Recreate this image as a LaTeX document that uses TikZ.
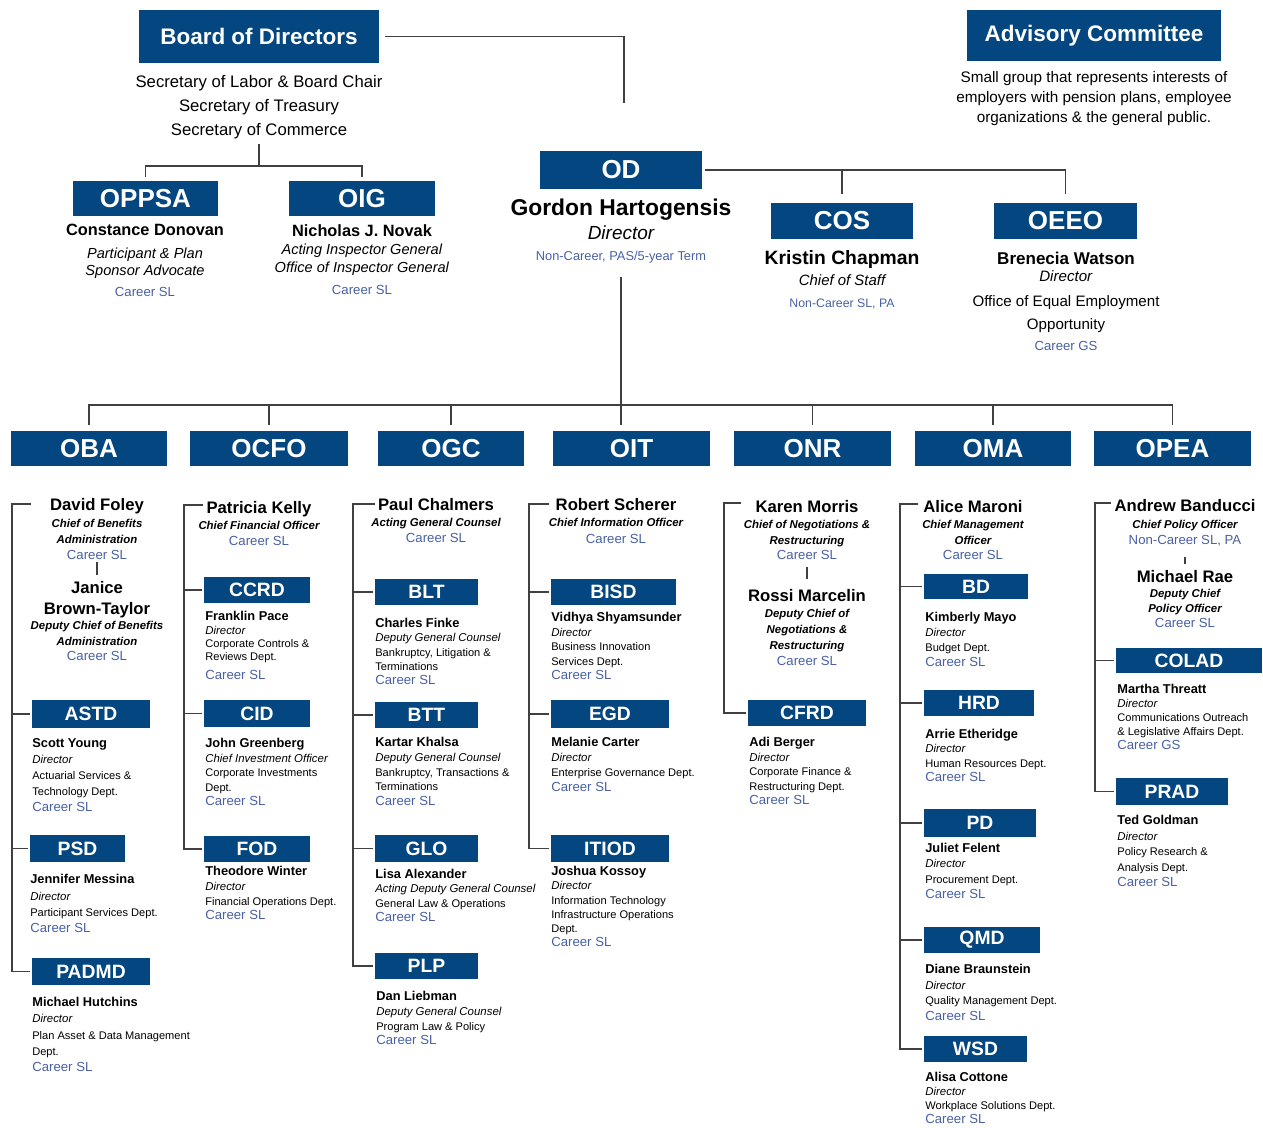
\documentclass[tikz,border=0pt]{standalone}
\usepackage{fontspec}
\setmainfont{Liberation Sans}
\usepackage{tikz}

\definecolor{pbgcnavy}{RGB}{3,70,128}
\definecolor{gradeblue}{RGB}{72,96,164}
\definecolor{linegray}{RGB}{64,64,64}

\newcommand\hname[1]{{\bfseries\fontsize{9.5}{9.5}\selectfont #1}}
\newcommand\htitle[1]{{\bfseries\itshape\fontsize{6.5}{6.5}\selectfont #1}}
\newcommand\dname[1]{{\bfseries\fontsize{7.3}{7.3}\selectfont #1}}
\newcommand\dtitle[1]{{\itshape\fontsize{6.5}{6.5}\selectfont #1}}
\newcommand\grade[1]{{\color{gradeblue}\fontsize{7.5}{7.5}\selectfont #1}}

\begin{document}
\begin{tikzpicture}[x=0.02cm, y=-0.02cm,
    link/.style={draw=linegray, line width=1.1pt},
    sz/.style 2 args={minimum width=#1*0.02cm, minimum height=#2*0.02cm},
    topbox/.style={fill=pbgcnavy, text=white, inner sep=0pt, font=\bfseries\fontsize{12.8}{14}\selectfont},
    officebox/.style={fill=pbgcnavy, text=white, inner sep=0pt, font=\bfseries\fontsize{14.8}{16}\selectfont},
    deptbox/.style={fill=pbgcnavy, text=white, inner sep=0pt, font=\bfseries\fontsize{11}{12}\selectfont},
    toptext/.style={align=center, anchor=north, inner sep=0pt, font=\fontsize{8.3}{#1}\selectfont},
    headinfo/.style={align=center, anchor=north, inner sep=0pt, font=\fontsize{6.5}{#1}\selectfont},
    deptinfo/.style={align=left, anchor=north west, inner sep=0pt, font=\fontsize{6.3}{#1}\selectfont}]
        \useasboundingbox (0,0) rectangle (1263,1127) ;

        % board and advisory committee
        \node[topbox, sz={240}{53}] (board) at (259,36.5) {Board of Directors} ;
        \node[toptext=13.6, font=\fontsize{9.5}{13.6}\selectfont] (secr) at (259,75) {Secretary of Labor \& Board Chair\\ Secretary of Treasury\\ Secretary of Commerce} ;
        \node[topbox, sz={254}{51}] (advisory) at (1094,35.5) {Advisory Committee} ;
        \node[toptext=11.4, font=\fontsize{8.7}{11.4}\selectfont] (advtext) at (1094,71.5) {Small group that represents interests of\\ employers with pension plans, employee\\ organizations \& the general public.} ;

        \node[officebox, sz={145}{35}] (oppsa) at (145.5,198.5) {OPPSA} ;
        \node[toptext=9.7] (donovan) at (145,224) {{\bfseries\fontsize{9.3}{9.3}\selectfont Constance Donovan}\\[3pt] \textit{Participant \& Plan}\\ \textit{Sponsor Advocate}\\[2.5pt] \grade{Career SL}} ;

        \node[officebox, sz={146}{35}] (oig) at (362,198.5) {OIG} ;
        \node[toptext=10.3] (novak) at (362,224) {{\bfseries\fontsize{9.3}{9.3}\selectfont Nicholas J. Novak}\\ \textit{Acting Inspector General}\\ \textit{Office of Inspector General}\\[2pt] \grade{Career SL}} ;

        \node[officebox, sz={162}{38}] (od) at (621,170) {OD} ;
        \node[toptext=12.3] (odinfo) at (621,199) {{\bfseries\fontsize{13}{13}\selectfont Gordon Hartogensis}\\[1pt] {\itshape\fontsize{10.8}{10.8}\selectfont Director}\\ {\color{gradeblue}\fontsize{7.3}{7.3}\selectfont Non-Career, PAS/5-year Term}} ;

        \node[officebox, sz={142}{36}] (cos) at (842,221) {COS} ;
        \node[toptext=12.3] (chapman) at (842,250) {{\bfseries\fontsize{11}{11}\selectfont Kristin Chapman}\\ {\itshape\fontsize{8.5}{8.5}\selectfont Chief of Staff}\\ {\color{gradeblue}\fontsize{7}{7}\selectfont Non-Career SL, PA}} ;

        \node[officebox, sz={143}{36}] (oeeo) at (1065.5,221) {OEEO} ;
        \node[toptext=9.8, font=\fontsize{8.6}{9.8}\selectfont] (watson) at (1066,252) {{\bfseries\fontsize{9.7}{9.7}\selectfont Brenecia Watson}\\ \textit{Director}\\[3.9pt] Office of Equal Employment\\[3.3pt] Opportunity\\[2.3pt] \grade{Career GS}} ;

        % top connectors
        \coordinate (odIn) at (624,103) ;
        \draw[link, shorten <=3pt] (board.east) -| (odIn) ;
        \coordinate (bodFork) at (259,166) ;
        \draw[link, shorten <=2.8pt] (secr) -- (bodFork) ;
        \draw[link, shorten <=2.3pt, shorten >=2.3pt] (oppsa) |- (bodFork) -| (oig) ;
        \draw[link, shorten <=1.5pt, shorten >=5pt] (od.east) -| (oeeo) ;
        \draw[link, shorten >=5pt] (od.east -| cos) -- (cos) ;

        % offices
        \node[officebox, sz={156}{35}] (oba) at (89,448.5) {OBA} ;
        \node[officebox, sz={158}{35}] (ocfo) at (269,448.5) {OCFO} ;
        \node[officebox, sz={146}{35}] (ogc) at (451,448.5) {OGC} ;
        \node[officebox, sz={157}{35}] (oit) at (631.5,448.5) {OIT} ;
        \node[officebox, sz={157}{35}] (onr) at (812.5,448.5) {ONR} ;
        \node[officebox, sz={156}{35}] (oma) at (993,448.5) {OMA} ;
        \node[officebox, sz={157}{35}] (opea) at (1172.5,448.5) {OPEA} ;

        \coordinate (bus) at (621,405) ;
        \draw[link, shorten <=7.4pt, shorten >=3.4pt] (odinfo.south) -- (odinfo.south |- oit.north) ;
        \draw[link, shorten <=3.4pt, shorten >=3.4pt] (oba) |- (bus) -| (opea) ;
        \draw[link, shorten >=3.4pt] (bus -| ocfo) -- (ocfo) ;
        \draw[link, shorten >=3.4pt] (bus -| ogc) -- (ogc) ;
        \draw[link, shorten >=3.4pt] (bus -| onr) -- (onr) ;
        \draw[link, shorten >=3.4pt] (bus -| oma) -- (oma) ;

        % OBA
        \node[headinfo=9.2] (foley) at (97,498) {\hname{David Foley}\\[0.5pt] \htitle{Chief of Benefits}\\ \htitle{Administration}\\ \grade{Career SL}} ;
        \node[headinfo=8.8] (janice) at (97,581) {\hname{Janice}\\[3pt] \hname{Brown-Taylor}\\ \htitle{Deputy Chief of Benefits}\\ \htitle{Administration}\\ \grade{Career SL}} ;
        \node[deptbox, sz={118}{28}] (astd) at (91,714) {ASTD} ;
        \node[deptinfo=9.1] (young) at (32,738) {\dname{Scott Young}\\ \dtitle{Director}\\ Actuarial Services \&\\ Technology Dept.\\ \grade{Career SL}} ;
        \node[deptbox, sz={95}{27}] (psd) at (77.5,848.5) {PSD} ;
        \node[deptinfo=9.3] (messina) at (30,874) {\dname{Jennifer Messina}\\ \dtitle{Director}\\ Participant Services Dept.\\ \grade{Career SL}} ;
        \node[deptbox, sz={118}{27}] (padmd) at (91,971.5) {PADMD} ;
        \node[deptinfo=9.25] (hutchins) at (32,997) {\dname{Michael Hutchins}\\ \dtitle{Director}\\ Plan Asset \& Data Management\\ Dept.\\ \grade{Career SL}} ;

        \coordinate (obaTop) at (31,504) ;
        \coordinate (obaSpine) at (12,504) ;
        \draw[link, shorten >=1pt] (obaTop) -- (obaSpine) |- (padmd) ;
        \draw[link, shorten >=1pt] (obaSpine |- astd) -- (astd) ;
        \draw[link, shorten >=1pt] (obaSpine |- psd) -- (psd) ;
        \draw[link, shorten <=0.7pt, shorten >=3.4pt] (foley) -- (janice) ;

        % OCFO
        \node[headinfo=9.2] (kelly) at (259,501) {\hname{Patricia Kelly}\\ \htitle{Chief Financial Officer}\\ \grade{Career SL}} ;
        \node[deptbox, sz={106}{26}] (ccrd) at (257,590) {CCRD} ;
        \node[deptinfo=7.6] (pace) at (205,611) {\dname{Franklin Pace}\\ \dtitle{Director}\\ Corporate Controls \&\\ Reviews Dept.\\[3pt] \grade{Career SL}} ;
        \node[deptbox, sz={106}{27}] (cid) at (257,713.5) {CID} ;
        \node[deptinfo=8.25] (greenberg) at (205,738) {\dname{John Greenberg}\\ \dtitle{Chief Investment Officer}\\ Corporate Investments\\ Dept.\\ \grade{Career SL}} ;
        \node[deptbox, sz={106}{26}] (fod) at (257,849) {FOD} ;
        \node[deptinfo=8.35] (winter) at (205,866) {\dname{Theodore Winter}\\ \dtitle{Director}\\ Financial Operations Dept.\\ \grade{Career SL}} ;

        \coordinate (ocfoTop) at (203,505) ;
        \coordinate (ocfoSpine) at (184,505) ;
        \draw[link, shorten >=1pt] (ocfoTop) -- (ocfoSpine) |- (fod) ;
        \draw[link, shorten >=1pt] (ocfoSpine |- ccrd) -- (ccrd) ;
        \draw[link, shorten >=1pt] (ocfoSpine |- cid) -- (cid) ;

        % OGC
        \node[headinfo=9] (chalmers) at (436,498) {\hname{Paul Chalmers}\\ \htitle{Acting General Counsel}\\ \grade{Career SL}} ;
        \node[deptbox, sz={103}{26}] (blt) at (426.5,592) {BLT} ;
        \node[deptinfo=8.1] (finke) at (375,618) {\dname{Charles Finke}\\ \dtitle{Deputy General Counsel}\\ Bankruptcy, Litigation \&\\ Terminations\\ \grade{Career SL}} ;
        \node[deptbox, sz={103}{26}] (btt) at (426.5,715) {BTT} ;
        \node[deptinfo=8.4] (khalsa) at (375,737) {\dname{Kartar Khalsa}\\ \dtitle{Deputy General Counsel}\\ Bankruptcy, Transactions \&\\ Terminations\\ \grade{Career SL}} ;
        \node[deptbox, sz={103}{27}] (glo) at (426.5,848.5) {GLO} ;
        \node[deptinfo=8.15] (alexander) at (375,869) {\dname{Lisa Alexander}\\ \dtitle{Acting Deputy General Counsel}\\ General Law \& Operations\\ \grade{Career SL}} ;
        \node[deptbox, sz={103}{26}] (plp) at (426.5,966) {PLP} ;
        \node[deptinfo=8.35] (liebman) at (376,991) {\dname{Dan Liebman}\\ \dtitle{Deputy General Counsel}\\ Program Law \& Policy\\ \grade{Career SL}} ;

        \coordinate (ogcTop) at (375,504) ;
        \coordinate (ogcSpine) at (353,504) ;
        \draw[link, shorten >=1pt] (ogcTop) -- (ogcSpine) |- (plp) ;
        \draw[link, shorten >=1pt] (ogcSpine |- blt) -- (blt) ;
        \draw[link, shorten >=1pt] (ogcSpine |- btt) -- (btt) ;
        \draw[link, shorten >=1pt] (ogcSpine |- glo) -- (glo) ;

        % OIT
        \node[headinfo=9.3] (scherer) at (616,498) {\hname{Robert Scherer}\\ \htitle{Chief Information Officer}\\ \grade{Career SL}} ;
        \node[deptbox, sz={125}{26}] (bisd) at (613.5,592) {BISD} ;
        \node[deptinfo=8.25] (shyamsunder) at (551,612) {\dname{Vidhya Shyamsunder}\\ \dtitle{Director}\\ Business Innovation\\ Services Dept.\\ \grade{Career SL}} ;
        \node[deptbox, sz={118}{28}] (egd) at (610,714) {EGD} ;
        \node[deptinfo=8.5] (carter) at (551,737) {\dname{Melanie Carter}\\ \dtitle{Director}\\ Enterprise Governance Dept.\\ \grade{Career SL}} ;
        \node[deptbox, sz={118}{27}] (itiod) at (610,848.5) {ITIOD} ;
        \node[deptinfo=8.1] (kossoy) at (551,866) {\dname{Joshua Kossoy}\\ \dtitle{Director}\\ Information Technology\\ Infrastructure Operations\\ Dept.\\ \grade{Career SL}} ;

        \coordinate (oitTop) at (549,504) ;
        \coordinate (oitSpine) at (529,504) ;
        \draw[link, shorten >=1pt] (oitTop) -- (oitSpine) |- (itiod) ;
        \draw[link, shorten >=1pt] (oitSpine |- bisd) -- (bisd) ;
        \draw[link, shorten >=1pt] (oitSpine |- egd) -- (egd) ;

        % ONR
        \node[headinfo=9] (morris) at (807,500) {\hname{Karen Morris}\\ \htitle{Chief of Negotiations \&}\\ \htitle{Restructuring}\\ \grade{Career SL}} ;
        \node[headinfo=9.1] (marcelin) at (807,589) {\hname{Rossi Marcelin}\\ \htitle{Deputy Chief of}\\ \htitle{Negotiations \&}\\ \htitle{Restructuring}\\ \grade{Career SL}} ;
        \node[deptbox, sz={118}{26}] (cfrd) at (807,713) {CFRD} ;
        \node[deptinfo=8.25] (berger) at (749,737) {\dname{Adi Berger}\\ \dtitle{Director}\\ Corporate Finance \&\\ Restructuring Dept.\\ \grade{Career SL}} ;

        \coordinate (onrTop) at (741,503) ;
        \coordinate (onrSpine) at (724,503) ;
        \draw[link, shorten >=1pt] (onrTop) -- (onrSpine) |- (cfrd) ;
        \draw[link, shorten <=4pt, shorten >=5.7pt] (morris) -- (marcelin) ;

        % OMA
        \node[headinfo=9] (maroni) at (973,500) {\hname{Alice Maroni}\\ \htitle{Chief Management}\\ \htitle{Officer}\\ \grade{Career SL}} ;
        \node[deptbox, sz={104}{25}] (bd) at (976,586.5) {BD} ;
        \node[deptinfo=8.5] (mayo) at (925,612) {\dname{Kimberly Mayo}\\ \dtitle{Director}\\ Budget Dept.\\ \grade{Career SL}} ;
        \node[deptbox, sz={110}{26}] (hrd) at (979,703) {HRD} ;
        \node[deptinfo=8.15] (etheridge) at (925,729) {\dname{Arrie Etheridge}\\ \dtitle{Director}\\ Human Resources Dept.\\ \grade{Career SL}} ;
        \node[deptbox, sz={112}{28}] (pd) at (980,823) {PD} ;
        \node[deptinfo=8.7] (felent) at (925,843) {\dname{Juliet Felent}\\ \dtitle{Director}\\ Procurement Dept.\\ \grade{Career SL}} ;
        \node[deptbox, sz={116}{26}] (qmd) at (982,940) {QMD} ;
        \node[deptinfo=8.9] (braunstein) at (925,964) {\dname{Diane Braunstein}\\ \dtitle{Director}\\ Quality Management Dept.\\ \grade{Career SL}} ;
        \node[deptbox, sz={103}{26}] (wsd) at (975.5,1049) {WSD} ;
        \node[deptinfo=8] (cottone) at (925,1072) {\dname{Alisa Cottone}\\ \dtitle{Director}\\ Workplace Solutions Dept.\\ \grade{Career SL}} ;

        \coordinate (omaTop) at (918,504) ;
        \coordinate (omaSpine) at (900,504) ;
        \draw[link, shorten >=1pt] (omaTop) -- (omaSpine) |- (wsd) ;
        \draw[link, shorten >=1pt] (omaSpine |- bd) -- (bd) ;
        \draw[link, shorten >=1pt] (omaSpine |- hrd) -- (hrd) ;
        \draw[link, shorten >=1pt] (omaSpine |- pd) -- (pd) ;
        \draw[link, shorten >=1pt] (omaSpine |- qmd) -- (qmd) ;

        % OPEA
        \node[headinfo=9.5] (banducci) at (1185,499) {\hname{Andrew Banducci}\\ \htitle{Chief Policy Officer}\\ \grade{Non-Career SL, PA}} ;
        \node[headinfo=8.6] (rae) at (1185,570) {\hname{Michael Rae}\\ \htitle{Deputy Chief}\\ \htitle{Policy Officer}\\ \grade{Career SL}} ;
        \node[deptbox, sz={146}{25}] (colad) at (1189,660.5) {COLAD} ;
        \node[deptinfo=8] (threatt) at (1117,684) {\dname{Martha Threatt}\\ \dtitle{Director}\\ Communications Outreach\\ \& Legislative Affairs Dept.\\ \grade{Career GS}} ;
        \node[deptbox, sz={112}{27}] (prad) at (1172,791.5) {PRAD} ;
        \node[deptinfo=8.8] (goldman) at (1117,815) {\dname{Ted Goldman}\\ \dtitle{Director}\\ Policy Research \&\\ Analysis Dept.\\ \grade{Career SL}} ;

        \coordinate (opeaTop) at (1111,503) ;
        \coordinate (opeaSpine) at (1095,503) ;
        \draw[link, shorten >=1pt] (opeaTop) -- (opeaSpine) |- (prad) ;
        \draw[link, shorten >=1pt] (opeaSpine |- colad) -- (colad) ;
        \draw[link, shorten <=5.7pt, shorten >=3.4pt] (banducci) -- (rae) ;

    \end{tikzpicture}
\end{document}
